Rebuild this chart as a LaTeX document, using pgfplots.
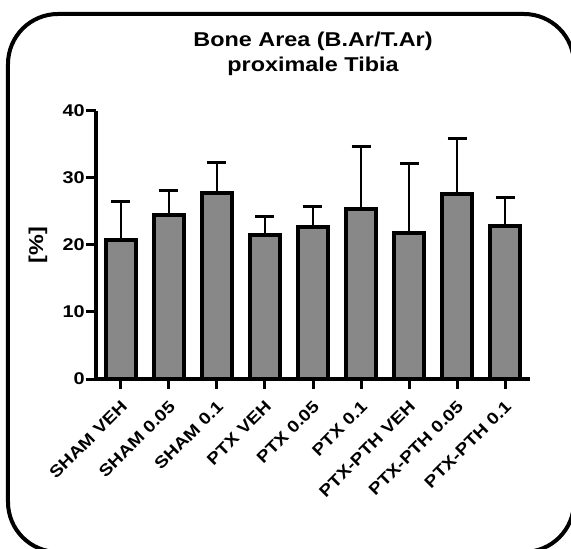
\documentclass[border=0pt]{standalone}
\usepackage{fontspec}
\setmainfont[FakeStretch=1.17]{Liberation Sans}
\usepackage{pgfplots}
\pgfplotsset{compat=1.18}
\definecolor{barfill}{HTML}{888888}
\begin{document}
\begin{tikzpicture}
\path[use as bounding box] (-96pt,-170pt) rectangle (475pt,379pt);
\draw[line width=4pt, rounded corners=50pt] (-88pt,-173pt) rectangle (478pt,365pt);
\begin{axis}[
  scale only axis,
  width=434pt, height=268.3pt,
  xmin=-0.52, xmax=8.52,
  ymin=0, ymax=40,
  axis x line=bottom, axis y line=left,
  axis line style={line width=4pt, -},
  tick style={line width=3pt, black},
  tick align=outside,
  major tick length=10pt,
  xtick={0,...,8},
  xticklabels={SHAM VEH, SHAM 0.05, SHAM 0.1, PTX VEH, PTX 0.05, PTX 0.1, PTX-PTH VEH, PTX-PTH 0.05, PTX-PTH 0.1},
  xticklabel style={xshift=4pt, yshift=-14pt, rotate=45, anchor=east, font=\fontsize{16.5}{18}\selectfont\bfseries, inner sep=1pt},
  ytick={0,10,20,30,40},
  yticklabel style={font=\fontsize{17}{19}\selectfont\bfseries, inner sep=1pt},
  /pgf/number format/assume math mode=true,
  ylabel={[\%]},
  ylabel style={at={(axis description cs:-0.1336,0.5)}, anchor=center, font=\fontsize{20}{22}\selectfont\bfseries},
  error bars/error bar style={line width=2.7pt, black},
  error bars/error mark options={rotate=90, line width=3pt, mark size=9.5pt, black},
  clip=false,
]
\addplot[ybar, bar width=0.62, fill=barfill, draw=black, line width=4pt,
  error bars/.cd, y dir=plus, y explicit]
  table[x=x, y=y, y error=e] {
x y e
0 20.7 5.7
1 24.4 3.7
2 27.8 4.5
3 21.5 2.7
4 22.7 3.0
5 25.4 9.3
6 21.7 10.5
7 27.6 8.3
8 22.8 4.2
};
\end{axis}
\node[anchor=base, font=\fontsize{20}{22}\selectfont\bfseries] at (217pt,332pt) {Bone Area (B.Ar/T.Ar)};
\node[anchor=base, font=\fontsize{20}{22}\selectfont\bfseries] at (217pt,307pt) {proximale Tibia};
\end{tikzpicture}
\end{document}
